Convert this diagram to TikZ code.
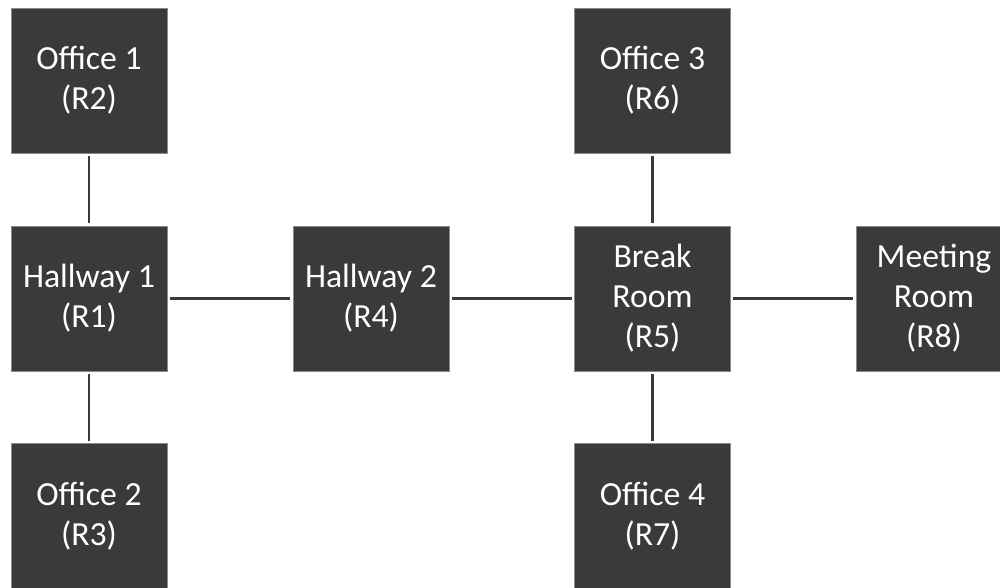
\documentclass[tikz,border=0pt]{standalone}
\usepackage{fontspec}
\setmainfont{Carlito}
\usetikzlibrary{positioning}
\definecolor{roomgray}{HTML}{3B3A39}
\definecolor{edgegray}{HTML}{8A8A8A}
\definecolor{linkgray}{HTML}{3A3A3A}

\begin{document}
\begin{tikzpicture}
\tikzset{R/.style={rectangle,fill=roomgray,draw=edgegray,line width=0.4pt,minimum width=3.12cm,minimum height=2.9cm,text=white,align=center,font=\fontsize{19.2}{22.8}\selectfont}}
\tikzset{L/.style={draw=linkgray,line width=1.6pt,shorten >=1.5pt,shorten <=1.5pt}}

  \useasboundingbox (0,0) rectangle (20,11.76);
  \node[R] (r2) at (1.78,10.15)  {Office 1\\(R2)};
  \node[R] (r1) at (1.78,5.79)   {Hallway 1\\(R1)};
  \node[R] (r3) at (1.78,1.44)   {Office 2\\(R3)};
  \node[R] (r4) at (7.42,5.79)   {Hallway 2\\(R4)};

  \node[R] (r6) at (13.05,10.15) {Office 3\\(R6)};
  \node[R] (r5) at (13.05,5.79)  {Break\\Room\\(R5)};
  \node[R] (r7) at (13.05,1.44)  {Office 4\\(R7)};
  \node[R] (r8) at (18.68,5.79)  {Meeting\\Room\\(R8)};

  \draw[L] (r2) -- (r1);
  \draw[L] (r1) -- (r3);
  \draw[L] (r1) -- (r4);
  \draw[L] (r4) -- (r5);
  \draw[L] (r6) -- (r5);
  \draw[L] (r5) -- (r7);
  \draw[L] (r5) -- (r8);
\end{tikzpicture}
\end{document}
